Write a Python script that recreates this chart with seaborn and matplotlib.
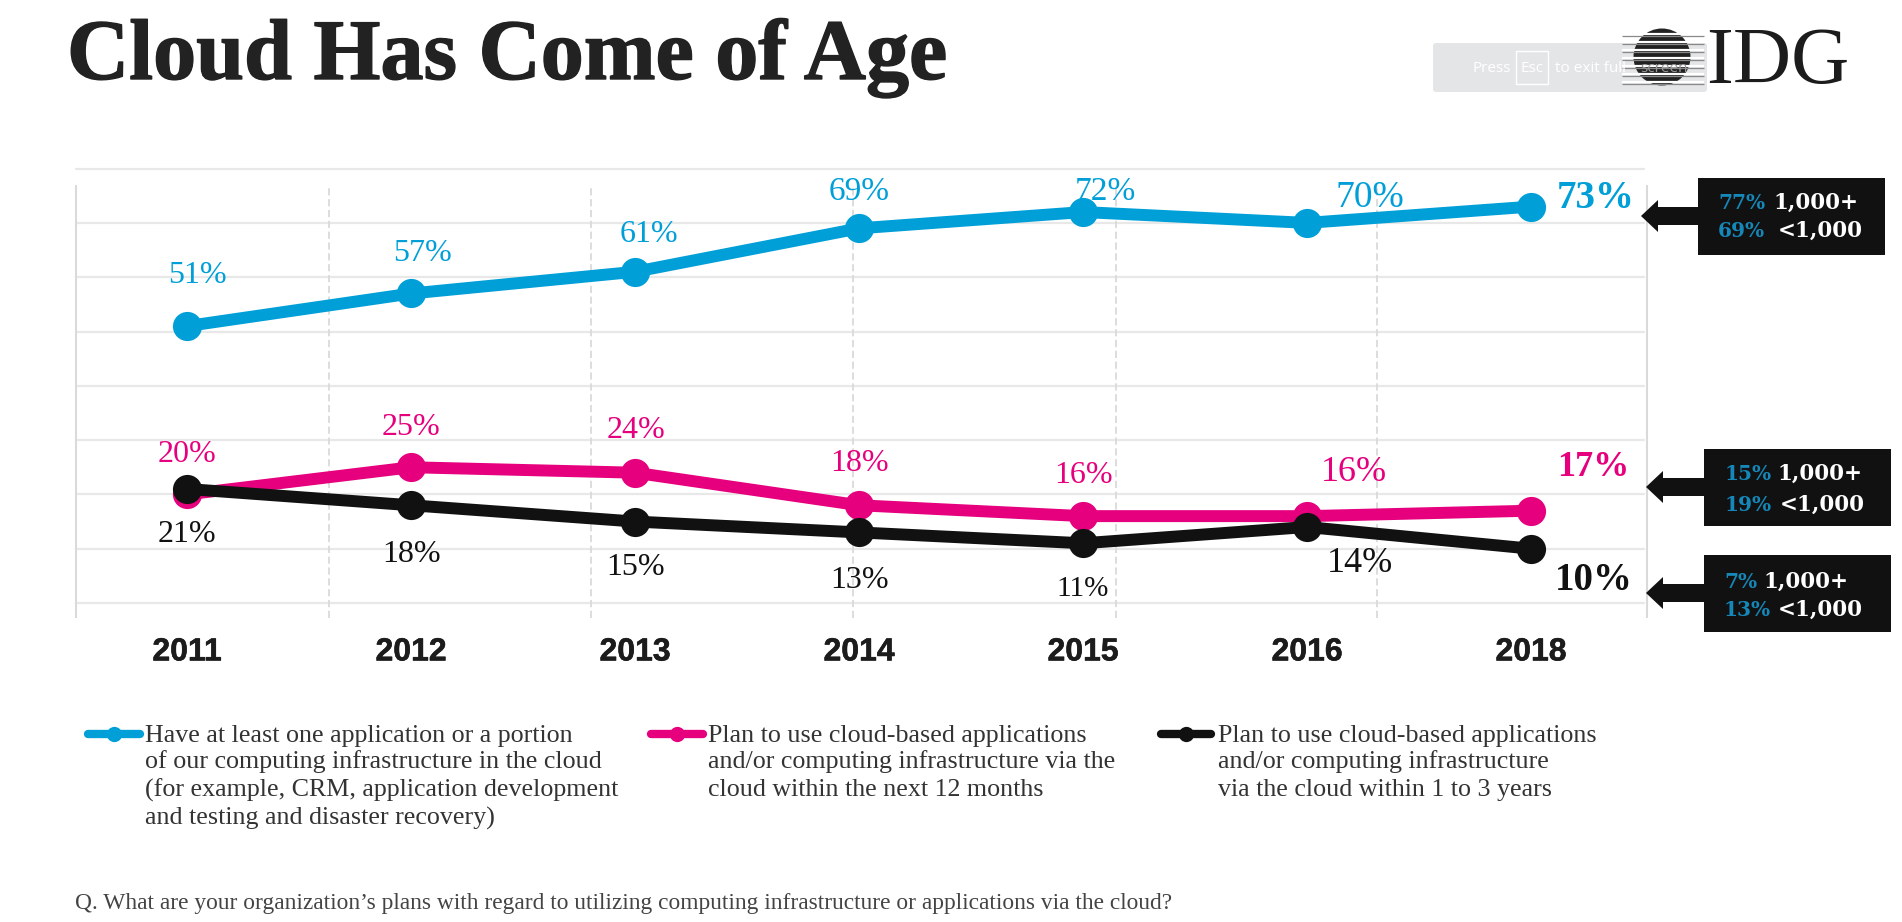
import matplotlib
matplotlib.use("Agg")
import matplotlib.pyplot as plt
import matplotlib.patheffects as pe
from matplotlib import font_manager as fm
from matplotlib.patches import Rectangle, Circle, FancyBboxPatch, Polygon
import pandas as pd
import seaborn as sns

years = ["2011", "2012", "2013", "2014", "2015", "2016", "2018"]
have_cloud = [51, 57, 61, 69, 72, 70, 73]
plan_12m = [20, 25, 24, 18, 16, 16, 17]
plan_1to3y = [21, 18, 15, 13, 11, 14, 10]
series_names = ["have", "plan12", "plan13"]

BLUE, PINK, BLACK = "#009FD8", "#E6007E", "#111111"
GRID = "#E8E8E8"
SERIF = "Liberation Serif"
names = {f.name for f in fm.fontManager.ttflist}
NARROW = "Liberation Sans Narrow" if "Liberation Sans Narrow" in names else "Liberation Sans"

sns.set_theme(style="white")
plt.rcParams["font.family"] = [SERIF, "DejaVu Serif"]

fig = plt.figure(figsize=(19.02, 9.22), dpi=100, facecolor="white")
W, H = 1902.0, 922.0
# plot area in pixels: x 76..1644, y 168.6..618
ax = fig.add_axes([76 / W, 1 - 618 / H, (1644 - 76) / W, (618 - 168.6) / H])

df = pd.DataFrame({
    "pos": list(range(len(years))) * 3,
    "value": have_cloud + plan_12m + plan_1to3y,
    "series": sum([[s] * len(years) for s in series_names], []),
})
ax.set_xlim(-0.496, 6.504)
ax.set_ylim(-2.76, 80)
ax.set_yticks(range(0, 81, 10))
ax.set_yticklabels([])
ax.grid(axis="y", color=GRID, lw=1.6)
ax.grid(axis="x", visible=False)
for gl in ax.get_ygridlines():
    gl.set_clip_on(False)
ax.set_axisbelow(True)
for s in ax.spines.values():
    s.set_visible(False)


def x_data(px):
    return (px - 187.0) / 224.0


ax.vlines([x_data(p) for p in (329, 591, 853, 1116, 1377)], -2.76, 77, color="#DADADA", lw=1.3,
          linestyles=(0, (4, 2)), zorder=1)
ax.vlines([x_data(p) for p in (76, 1647)], -2.76, 77, color="#DADADA", lw=1.5, zorder=1, clip_on=False)

sns.lineplot(data=df, x="pos", y="value", hue="series", hue_order=series_names,
             palette=[BLUE, PINK, BLACK], marker="o", markersize=21, markeredgewidth=0,
             linewidth=8.6, legend=False, ax=ax, zorder=3)
ax.set_xlabel("")
ax.set_ylabel("")
ax.set_xticks(range(len(years)))
ax.set_xticklabels(years, family=NARROW, fontweight="bold", fontsize=23, color="#1c1c1c",
                   path_effects=[pe.withStroke(linewidth=0.4, foreground="#1c1c1c")])
ax.tick_params(axis="x", length=0, pad=14)
ax.tick_params(axis="y", length=0)

# label offsets from their points, in pixels (right, up), and text sizes
off_have = [(10, 51), (11, 40), (14, 37), (0, 37), (22, 20), (63, 25), (65, 8)]
off_p12 = [(0, 40), (0, 40), (1, 42), (0, 42), (0, 41), (47, 44), (62, 43)]
off_p13 = [(0, -46), (0, -49), (0, -46), (0, -48), (0, -46), (53, -37), (63, -32)]
size_have = [23, 23, 23, 24, 24, 27, 28]
size_p12 = [23, 23, 23, 23, 23, 26, 26]
size_p13 = [23, 23, 23, 23, 21, 26, 28]
for vals, offs, sizes, col in [(have_cloud, off_have, size_have, BLUE),
                               (plan_12m, off_p12, size_p12, PINK),
                               (plan_1to3y, off_p13, size_p13, BLACK)]:
    for i, (v, o, fs) in enumerate(zip(vals, offs, sizes)):
        last = i == len(vals) - 1
        ax.annotate(f"{v}%", xy=(i, v), xytext=(o[0] * 0.72, o[1] * 0.72), textcoords="offset points",
                    ha="center", va="center", color=col, fontsize=fs,
                    fontweight="bold" if last else "normal", zorder=5)

# overlay in pixel coordinates
ov = fig.add_axes([0, 0, 1, 1], zorder=10)
ov.set_xlim(0, W)
ov.set_ylim(H, 0)
ov.axis("off")
ov.patch.set_alpha(0)

ov.text(67, 79, "Cloud Has Come of Age", fontsize=62, fontweight="bold", color="#222222", va="baseline", ha="left",
        path_effects=[pe.withStroke(linewidth=1.0, foreground="#222222")])

# notification banner
ov.add_patch(FancyBboxPatch((1436, 46), 268, 43, boxstyle="round,pad=3", fc="#E4E5E7", ec="none"))
ov.text(1473, 68, "Press", fontsize=11, family="Open Sans", color="white", va="center")
ov.add_patch(Rectangle((1516, 51), 32, 33, fc="none", ec="white", lw=1))
ov.text(1532, 68, "Esc", fontsize=11, family="Open Sans", color="white", va="center", ha="center")
ov.text(1555, 68, "to exit full", fontsize=11, family="Open Sans", color="white", va="center")

# IDG logo
ov.add_patch(Circle((1662, 57), 28.5, fc="#222222", ec="none"))
for y in range(33, 84, 8):
    ov.plot([1622, 1704], [y + 1, y + 1], color="white", lw=1.6, solid_capstyle="butt")
    ov.plot([1622, 1704], [y + 3.2, y + 3.2], color="#888888", lw=0.9, solid_capstyle="butt")
ov.text(1640, 68, "screen", fontsize=11, family="Open Sans", color="#9a9a9a", va="center")
ov.text(1706, 83, "IDG", fontsize=58, color="#1c1c1c", va="baseline", ha="left")

# callouts: box, arrow, texts
DEEP = "#1587B8"
callouts = [
    (1698, 178, 187, 77, 1641, 216, [("77%", 1718, 203, "1,000+", 1773), ("69%", 1718, 231, "<1,000", 1778)]),
    (1704, 449, 187, 77, 1646, 487, [("15%", 1725, 474, "1,000+", 1777), ("19%", 1725, 505, "<1,000", 1780)]),
    (1704, 555, 187, 77, 1646, 593, [("7%", 1724, 582, "1,000+", 1763), ("13%", 1724, 610, "<1,000", 1778)]),
]
for bx, by, bw, bh, tx, ty, rows in callouts:
    ov.add_patch(Rectangle((bx, by), bw, bh, fc=BLACK, ec="none"))
    ov.add_patch(Polygon([(tx, ty), (tx + 17, ty - 16), (tx + 17, ty - 9), (bx, ty - 9),
                          (bx, ty + 9), (tx + 17, ty + 9), (tx + 17, ty + 16)], fc=BLACK, ec="none"))
    for pct, x1, y, txt, x2 in rows:
        ov.text(x1, y, pct, family="DejaVu Serif", fontweight="bold", fontsize=14.5, color=DEEP, va="center")
        ov.text(x2, y, txt, family="DejaVu Serif", fontweight="bold", fontsize=15.5, color="white", va="center")

# legend
legend_blocks = [
    (BLUE, 88, 140, 145, ["Have at least one application or a portion",
                          "of our computing infrastructure in the cloud",
                          "(for example, CRM, application development",
                          "and testing and disaster recovery)"]),
    (PINK, 651, 703, 708, ["Plan to use cloud-based applications",
                           "and/or computing infrastructure via the",
                           "cloud within the next 12 months"]),
    (BLACK, 1161, 1211, 1218, ["Plan to use cloud-based applications",
                               "and/or computing infrastructure",
                               "via the cloud within 1 to 3 years"]),
]
line_y = [736, 762, 790, 818]
for col, x0, x1, xt, lines in legend_blocks:
    ov.plot([x0, x1], [734, 734], color=col, lw=6, solid_capstyle="round")
    ov.plot([(x0 + x1) / 2], [734], "o", color=col, ms=11, mew=0)
    for y, t in zip(line_y, lines):
        ov.text(xt, y, t, fontsize=18.7, color="#333333", va="center", ha="left")

ov.text(75, 903, "Q. What are your organization\u2019s plans with regard to utilizing computing infrastructure or applications via the cloud?",
        fontsize=16.8, color="#444444", va="center", ha="left")

fig.savefig("out.png", dpi=100, facecolor="white")
